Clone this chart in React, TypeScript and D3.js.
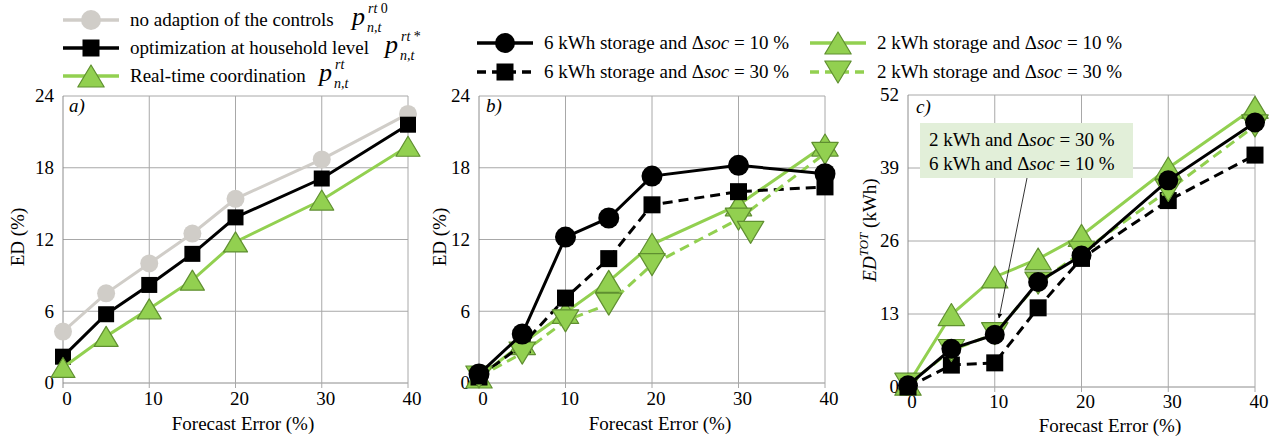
import React from 'react';
import * as d3 from 'd3';

// ---------- data ----------
const forecastError = [0, 5, 10, 15, 20, 30, 40];
const xTicks = [0, 10, 20, 30, 40];

// panel a) ED (%)
const aNoAdaption = [4.3, 7.5, 10.0, 12.5, 15.4, 18.7, 22.5];
const aHousehold = [2.2, 5.75, 8.2, 10.8, 13.85, 17.1, 21.6];
const aRealTime = [1.3, 3.9, 6.2, 8.6, 11.8, 15.3, 19.8];
const aYTicks = [0, 6, 12, 18, 24];

// panel b) ED (%)
const b6kWh10 = [0.75, 4.1, 12.2, 13.8, 17.3, 18.2, 17.5];
const b6kWh30 = [0.5, 3.2, 7.1, 10.4, 14.9, 16.0, 16.4];
const b2kWh10 = [0.5, 3.3, 5.9, 8.5, 11.6, 14.9, 19.9];
const b2kWh30 = [0.5, 2.5, 5.2, 6.6, 9.9, 13.7, 19.2];
const bStrayX = [31.4];
const bStrayY = [12.6];
const bYTicks = [0, 6, 12, 18, 24];

// panel c) ED^TOT (kWh)
const c6kWh10 = [0.3, 6.8, 9.3, 18.7, 23.4, 36.8, 47.1];
const c6kWh30 = [0, 3.9, 4.3, 14.1, 22.9, 33.2, 41.3];
const c2kWh10 = [0.5, 12.9, 19.6, 22.8, 27.0, 39.0, 49.8];
const c2kWh30 = [0.5, 6.5, 9.5, 18.5, 24.0, 35.0, 46.5];
const cYTicks = [0, 13, 26, 39, 52];

// ---------- style ----------
const FONT = "Liberation Serif, Tinos, Times New Roman, DejaVu Serif, serif";
const GRAY = '#d0cdc8';
const GREEN = '#92d050';
const GREEN_DARK = '#5f8f30';
const GRID = '#a8a8a8';
const AXIS = '#8c8c8c';

type Shape = 'circle' | 'square' | 'up' | 'down';

function Marker({ shape, cx, cy, s, fill, stroke }: { shape: Shape; cx: number; cy: number; s: number; fill: string; stroke?: string }) {
  if (shape === 'circle') return <circle cx={cx} cy={cy} r={s / 2} fill={fill} />;
  if (shape === 'square') return <rect x={cx - s / 2} y={cy - s / 2} width={s} height={s} fill={fill} />;
  const w = s * 1.2;
  const h = s;
  const pts =
    shape === 'up'
      ? [[cx, cy - h / 2], [cx + w / 2, cy + h / 2], [cx - w / 2, cy + h / 2]]
      : [[cx - w / 2, cy - h / 2], [cx + w / 2, cy - h / 2], [cx, cy + h / 2]];
  return <polygon points={pts.map((p) => p.join(',')).join(' ')} fill={fill} stroke={stroke} strokeWidth={1.2} strokeLinejoin="round" />;
}

type Series = { values: number[]; xs?: number[]; color: string; dash?: string; shape: Shape; size: number; fill: string; stroke?: string; noLine?: boolean };

type PanelProps = {
  x0: number; x1: number; yTop: number; yBot: number; yMax: number; yTicks: number[];
  series: Series[]; label: string; labelX: number; labelY: number;
  yTitle: React.ReactNode; yTitleX: number; yTitleY: number; xTitleX: number; xTitleY: number; xTickY: number;
};

function Panel(p: PanelProps) {
  const x = d3.scaleLinear().domain([0, 40]).range([p.x0, p.x1]);
  const y = d3.scaleLinear().domain([0, p.yMax]).range([p.yBot, p.yTop]);
  return (
    <g>
      {p.yTicks.map((t) => (
        <line key={'gy' + t} x1={p.x0} x2={p.x1} y1={y(t)} y2={y(t)} stroke={t === 0 ? AXIS : GRID} strokeWidth={1} />
      ))}
      {xTicks.map((t) => (
        <line key={'gx' + t} x1={x(t)} x2={x(t)} y1={p.yTop} y2={p.yBot + 5} stroke={t === 0 ? AXIS : GRID} strokeWidth={1} />
      ))}
      {p.yTicks.map((t) => (
        <text key={'ty' + t} x={p.x0 - 9} y={y(t)} dy="0.33em" textAnchor="end" fontSize={19} style={{ fontFamily: FONT }}>{t}</text>
      ))}
      {xTicks.map((t) => (
        <text key={'tx' + t} x={x(t) + 4} y={p.xTickY} textAnchor="middle" fontSize={19} style={{ fontFamily: FONT }}>{t}</text>
      ))}
      <text x={p.xTitleX} y={p.xTitleY} textAnchor="middle" fontSize={19} style={{ fontFamily: FONT }}>Forecast Error (%)</text>
      <text transform={`translate(${p.yTitleX},${p.yTitleY}) rotate(-90)`} textAnchor="middle" fontSize={19} style={{ fontFamily: FONT }}>{p.yTitle}</text>
      <text x={p.labelX} y={p.labelY} fontSize={19} fontStyle="italic" style={{ fontFamily: FONT }}>{p.label}</text>
      {p.series.map((s, i) => {
        const xs = s.xs ?? forecastError;
        const pts: [number, number][] = s.values.map((v, j) => [x(xs[j]), y(v)]);
        const path = d3.line()(pts) ?? '';
        return (
          <g key={i}>
            {!s.noLine && <path d={path} fill="none" stroke={s.color} strokeWidth={3} strokeDasharray={s.dash} />}
            {pts.map(([cx, cy], j) => (
              <Marker key={j} shape={s.shape} cx={cx} cy={cy} s={s.size} fill={s.fill} stroke={s.stroke} />
            ))}
          </g>
        );
      })}
    </g>
  );
}

function LegendItem({ x, y, color, dash, shape, size, fill, stroke, children }: any) {
  return (
    <g>
      <line x1={x} x2={x + 56} y1={y} y2={y} stroke={color} strokeWidth={3.5} strokeDasharray={dash} />
      <Marker shape={shape} cx={x + 28} cy={y} s={size} fill={fill} stroke={stroke} />
      <text x={x + 67} y={y + 6} fontSize={19} style={{ fontFamily: FONT }}>{children}</text>
    </g>
  );
}

function PMath({ x, y, sup }: { x: number; y: number; sup: React.ReactNode }) {
  return (
    <g style={{ fontFamily: FONT }}>
      <text x={x} y={y} fontSize={26} fontStyle="italic">p</text>
      <text x={x + 16} y={y - 12} fontSize={14}>{sup}</text>
      <text x={x + 15} y={y + 7} fontSize={14} fontStyle="italic">n,t</text>
    </g>
  );
}

const Dsoc = () => (
  <>
    Δ<tspan fontStyle="italic">soc</tspan>
  </>
);

export default function App() {
  const panelA: Series[] = [
    { values: aNoAdaption, color: GRAY, shape: 'circle', size: 18, fill: GRAY },
    { values: aHousehold, color: '#000', shape: 'square', size: 16, fill: '#000' },
    { values: aRealTime, color: GREEN, shape: 'up', size: 20, fill: GREEN, stroke: GREEN_DARK },
  ];
  const panelB: Series[] = [
    { values: b2kWh10, color: GREEN, shape: 'up', size: 22, fill: GREEN, stroke: GREEN_DARK },
    { values: b6kWh30, color: '#000', dash: '10,6', shape: 'square', size: 17, fill: '#000' },
    { values: b2kWh30, color: GREEN, dash: '10,6', shape: 'down', size: 22, fill: GREEN, stroke: GREEN_DARK },
    { values: bStrayY, xs: bStrayX, color: GREEN, shape: 'down', size: 22, fill: GREEN, stroke: GREEN_DARK, noLine: true },
    { values: b6kWh10, color: '#000', shape: 'circle', size: 21, fill: '#000' },
  ];
  const panelC: Series[] = [
    { values: c2kWh10, color: GREEN, shape: 'up', size: 22, fill: GREEN, stroke: GREEN_DARK },
    { values: c6kWh30, color: '#000', dash: '10,6', shape: 'square', size: 17, fill: '#000' },
    { values: c2kWh30, color: GREEN, dash: '10,6', shape: 'down', size: 22, fill: GREEN, stroke: GREEN_DARK },
    { values: c6kWh10, color: '#000', shape: 'circle', size: 20, fill: '#000' },
  ];

  return (
    <svg width={1285} height={443} style={{ position: 'absolute', left: 0, top: 0, background: '#fff', fontFamily: FONT }}>
      <rect width={1285} height={443} fill="#fff" />
      {/* top-left legend */}
      <LegendItem x={63} y={20} color={GRAY} shape="circle" size={20} fill={GRAY}>no adaption of the controls</LegendItem>
      <PMath x={352} y={25} sup={<><tspan fontStyle="italic">rt</tspan> 0</>} />
      <LegendItem x={63} y={48} color="#000" shape="square" size={17} fill="#000">optimization at household level</LegendItem>
      <PMath x={385} y={53} sup={<><tspan fontStyle="italic">rt</tspan> *</>} />
      <LegendItem x={63} y={76} color={GREEN} shape="up" size={22} fill={GREEN} stroke={GREEN_DARK}>Real-time coordination</LegendItem>
      <PMath x={319} y={81} sup={<tspan fontStyle="italic">rt</tspan>} />

      {/* top-middle legend */}
      <LegendItem x={477} y={43} color="#000" shape="circle" size={20} fill="#000">6 kWh storage and <Dsoc /> = 10 %</LegendItem>
      <LegendItem x={477} y={72} color="#000" dash="9,6" shape="square" size={17} fill="#000">6 kWh storage and <Dsoc /> = 30 %</LegendItem>
      <LegendItem x={810} y={43} color={GREEN} shape="up" size={22} fill={GREEN} stroke={GREEN_DARK}>2 kWh storage and <Dsoc /> = 10 %</LegendItem>
      <LegendItem x={810} y={72} color={GREEN} dash="9,6" shape="down" size={22} fill={GREEN} stroke={GREEN_DARK}>2 kWh storage and <Dsoc /> = 30 %</LegendItem>

      <Panel x0={63} x1={408} yTop={96} yBot={383} yMax={24} yTicks={aYTicks} series={panelA}
        label="a)" labelX={69} labelY={112} yTitle="ED (%)" yTitleX={24} yTitleY={237}
        xTitleX={243} xTitleY={430} xTickY={405} />
      <Panel x0={479} x1={825} yTop={96} yBot={383} yMax={24} yTicks={bYTicks} series={panelB}
        label="b)" labelX={486} labelY={112} yTitle="ED (%)" yTitleX={446} yTitleY={237}
        xTitleX={660} xTitleY={430} xTickY={405} />
      <Panel x0={908} x1={1255} yTop={95} yBot={387} yMax={52} yTicks={cYTicks} series={panelC}
        label="c)" labelX={916} labelY={113} yTitle={<><tspan fontStyle="italic">ED</tspan><tspan fontStyle="italic" fontSize={13} dy={-8}>TOT</tspan><tspan dy={8}> (kWh)</tspan></>} yTitleX={876} yTitleY={230}
        xTitleX={1110} xTitleY={432} xTickY={408} />

      {/* annotation in panel c */}
      <rect x={920} y={123} width={213} height={55} fill="#e2efd9" />
      <text x={929} y={146} fontSize={19} style={{ fontFamily: FONT }}>2 kWh and <Dsoc /> = 30 %</text>
      <text x={929} y={170} fontSize={19} style={{ fontFamily: FONT }}>6 kWh and <Dsoc /> = 10 %</text>
      <defs>
        <marker id="arr" viewBox="0 0 10 10" refX="9" refY="5" markerWidth="6" markerHeight="6" orient="auto">
          <path d="M0,0 L10,5 L0,10 z" fill="#000" />
        </marker>
      </defs>
      <line x1={1027} y1={178} x2={999} y2={318} stroke="#000" strokeWidth={0.8} markerEnd="url(#arr)" />
    </svg>
  );
}
